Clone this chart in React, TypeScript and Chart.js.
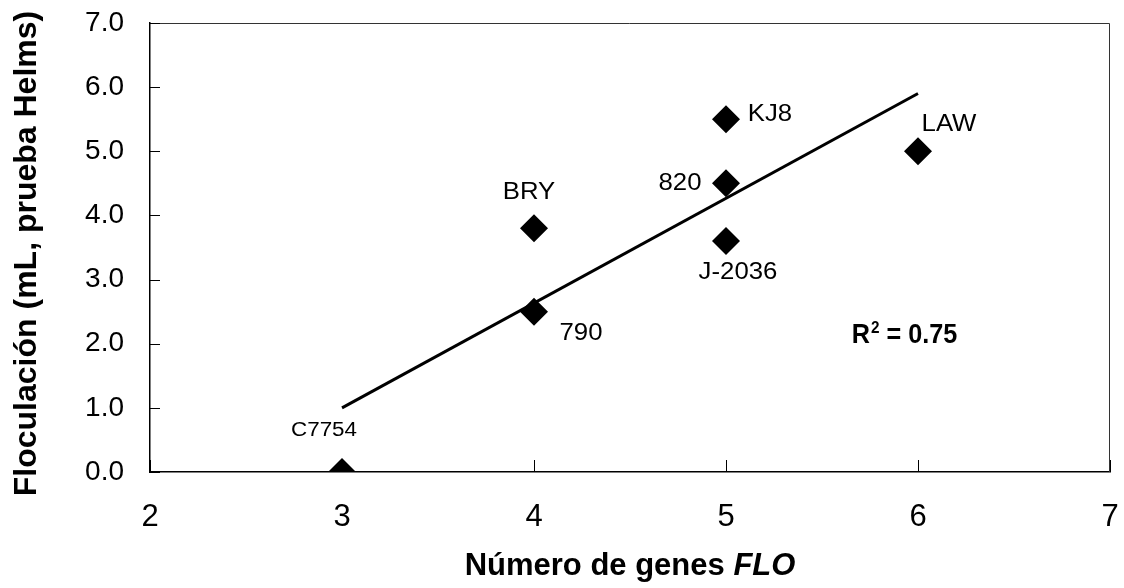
import React, { useEffect, useRef } from "react";
import { Chart, registerables } from "chart.js";

Chart.register(...registerables);

// ---- data ----
const strains = ["C7754", "790", "BRY", "820", "KJ8", "J-2036", "LAW"];
const floGenes = [3, 4, 4, 5, 5, 5, 6];
const flocculation = [0.0, 2.5, 3.8, 4.5, 5.5, 3.6, 5.0];
const trendX = [3, 6];
const trendY = [1.0, 5.9];
const xTickValues = [2, 3, 4, 5, 6, 7];
const yTickValues = [0, 1, 2, 3, 4, 5, 6, 7];
const rSquared = "0.75";

const yTitle = "Floculación (mL, prueba Helms)";
const xTitleMain = "Número de genes ";
const xTitleItalic = "FLO";

// ---- label placement (style, px offsets from the point: centre x, baseline y) ----
const labelPlacement: Record<string, { dx: number; dy: number; size: number }> = {
  C7754: { dx: -18, dy: -36, size: 20 },
  "790": { dx: 47, dy: 28, size: 23 },
  BRY: { dx: -5, dy: -29, size: 23 },
  "820": { dx: -46, dy: 7, size: 23 },
  KJ8: { dx: 44, dy: 2, size: 23 },
  "J-2036": { dx: 12, dy: 38, size: 23 },
  LAW: { dx: 31, dy: -20, size: 23 },
};
const rAnchor = { x: 5.655, y: 2.01 };

const FONT = "'Liberation Sans', Arial, Helvetica, sans-serif";

function drawText(
  ctx: CanvasRenderingContext2D,
  text: string,
  x: number,
  y: number,
  font: string,
  sx: number,
  align: CanvasTextAlign
) {
  ctx.save();
  ctx.font = font;
  ctx.translate(x, y);
  ctx.scale(sx, 1);
  ctx.textAlign = align;
  ctx.textBaseline = "alphabetic";
  ctx.fillStyle = "#000";
  ctx.fillText(text, 0, 0);
  ctx.restore();
}

const zeroPad = (s: any) => {
  s.paddingLeft = 0;
  s.paddingRight = 0;
  s.paddingTop = 0;
  s.paddingBottom = 0;
};

const overlayPlugin = {
  id: "overlay",
  afterDraw(chart: any) {
    const { ctx, chartArea: a } = chart;
    const xs = chart.scales.x;
    const ys = chart.scales.y;
    ctx.save();

    // top & right frame
    ctx.strokeStyle = "#333";
    ctx.lineWidth = 1;
    ctx.beginPath();
    ctx.moveTo(a.left, a.top + 0.5);
    ctx.lineTo(a.right - 0.5, a.top + 0.5);
    ctx.lineTo(a.right - 0.5, a.bottom);
    ctx.stroke();

    // inner tick marks
    ctx.strokeStyle = "#000";
    ctx.lineWidth = 1;
    ctx.beginPath();
    yTickValues.forEach((v) => {
      const py = Math.round(ys.getPixelForValue(v)) + 0.5;
      ctx.moveTo(a.left, py);
      ctx.lineTo(a.left + 10, py);
    });
    xTickValues.forEach((v) => {
      const px = Math.round(xs.getPixelForValue(v)) + 0.5;
      ctx.moveTo(px, a.bottom);
      ctx.lineTo(px, a.bottom - 12);
    });
    ctx.stroke();

    // point labels
    strains.forEach((name, i) => {
      const p = labelPlacement[name];
      const px = xs.getPixelForValue(floGenes[i]);
      const py = ys.getPixelForValue(flocculation[i]);
      drawText(ctx, name, px + p.dx, py + p.dy, `${p.size}px ${FONT}`, 1.12, "center");
    });

    // R² annotation
    const rx = xs.getPixelForValue(rAnchor.x);
    const ry = ys.getPixelForValue(rAnchor.y);
    const sx = 0.9;
    const mainFont = `bold 28px ${FONT}`;
    const supFont = `bold 17px ${FONT}`;
    ctx.save();
    ctx.font = mainFont;
    const wR = ctx.measureText("R").width * sx;
    ctx.font = supFont;
    const w2 = ctx.measureText("2").width * sx;
    ctx.restore();
    drawText(ctx, "R", rx, ry, mainFont, sx, "left");
    drawText(ctx, "2", rx + wR + 1, ry - 10, supFont, sx, "left");
    drawText(ctx, ` = ${rSquared}`, rx + wR + w2 + 1, ry, mainFont, sx, "left");

    // x title (mixed styles)
    const tFont = `bold 31px ${FONT}`;
    const tItFont = `italic bold 31px ${FONT}`;
    ctx.save();
    ctx.font = tFont;
    const w1 = ctx.measureText(xTitleMain).width;
    ctx.font = tItFont;
    const wI = ctx.measureText(xTitleItalic).width;
    ctx.restore();
    const cx = (a.left + a.right) / 2;
    const startX = cx - (w1 + wI) / 2;
    drawText(ctx, xTitleMain, startX, 575, tFont, 1, "left");
    drawText(ctx, xTitleItalic, startX + w1, 575, tItFont, 1, "left");

    // y title (rotated)
    ctx.save();
    ctx.translate(36, (a.top + a.bottom) / 2 + 6);
    ctx.rotate(-Math.PI / 2);
    ctx.font = `bold 32px ${FONT}`;
    ctx.textAlign = "center";
    ctx.textBaseline = "alphabetic";
    ctx.fillStyle = "#000";
    ctx.fillText(yTitle, 0, 0);
    ctx.restore();

    ctx.restore();
  },
};

export default function App() {
  const canvasRef = useRef<HTMLCanvasElement | null>(null);

  useEffect(() => {
    if (!canvasRef.current) return;
    const points = floGenes.map((x, i) => ({ x, y: flocculation[i] }));
    const trend = trendX.map((x, i) => ({ x, y: trendY[i] }));

    const chart = new Chart(canvasRef.current, {
      type: "scatter",
      data: {
        datasets: [
          {
            label: "Floculación",
            data: points,
            pointStyle: "rectRot",
            pointRadius: 14,
            pointHoverRadius: 14,
            backgroundColor: "#000",
            borderColor: "#000",
            borderWidth: 0,
            order: 1,
          },
          {
            type: "line",
            label: "Tendencia",
            data: trend,
            borderColor: "#000",
            borderWidth: 3,
            pointRadius: 0,
            showLine: true,
            fill: false,
            order: 2,
          } as any,
        ],
      },
      options: {
        animation: false,
        responsive: true,
        maintainAspectRatio: false,
        layout: { padding: { top: 23, right: 14, left: 0, bottom: 0 } },
        plugins: {
          legend: { display: false },
          tooltip: { enabled: false },
        },
        scales: {
          x: {
            type: "linear",
            min: 2,
            max: 7,
            afterFit: (s: any) => {
              s.height = 116;
              zeroPad(s);
            },
            afterBuildTicks: (s: any) => {
              s.ticks = xTickValues.map((v) => ({ value: v }));
            },
            ticks: {
              stepSize: 1,
              padding: 27,
              color: "#000",
              font: { family: FONT, size: 31 },
              callback: (v: any) => String(v),
            },
            grid: { display: false, drawTicks: false },
            border: { display: true, color: "#000", width: 1.5 },
          },
          y: {
            type: "linear",
            min: 0,
            max: 7,
            afterFit: (s: any) => {
              s.width = 150;
              zeroPad(s);
            },
            afterBuildTicks: (s: any) => {
              s.ticks = yTickValues.map((v) => ({ value: v }));
            },
            ticks: {
              stepSize: 1,
              padding: 26,
              color: "#000",
              font: { family: FONT, size: 28 },
              callback: (v: any) => Number(v).toFixed(1),
            },
            grid: { display: false, drawTicks: false },
            border: { display: true, color: "#000", width: 1.5 },
          },
        },
      },
      plugins: [overlayPlugin],
    });

    return () => chart.destroy();
  }, []);

  return (
    <div
      style={{
        position: "fixed",
        left: 0,
        top: 0,
        width: 1124,
        height: 588,
        background: "#fff",
      }}
    >
      <canvas ref={canvasRef} />
    </div>
  );
}
